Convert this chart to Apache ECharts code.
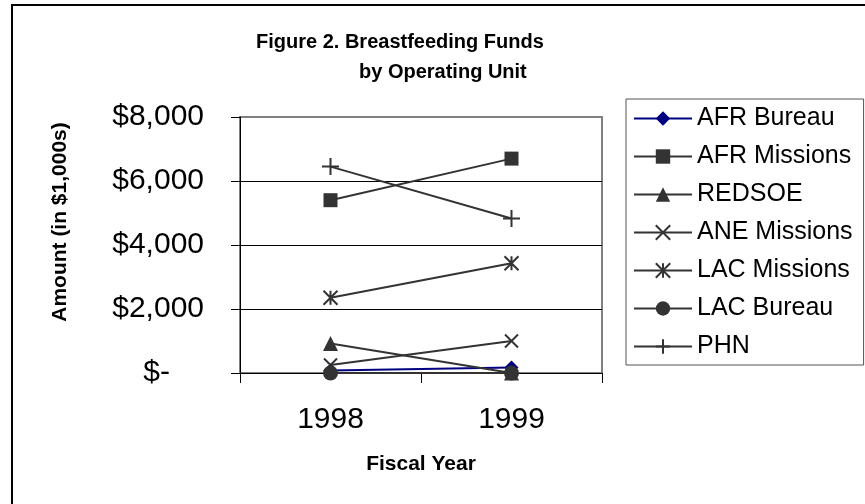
<!doctype html>
<html lang="en">
<head>
    <meta charset="UTF-8">
    <title>Breastfeeding Funds by Operating Unit</title>
    <style>
        html, body { margin: 0; padding: 0; background: #fff; }
        #main { width: 865px; height: 504px; }
    </style>
    <script src="https://cdn.jsdelivr.net/npm/echarts@6/dist/echarts.min.js"></script>
</head>
<body>
<div id="main"></div>
<script type="text/javascript">
    // data (amounts in $1,000s)
    var years = ['1998', '1999'];
    var seriesNames = ['AFR Bureau', 'AFR Missions', 'REDSOE', 'ANE Missions', 'LAC Missions', 'LAC Bureau', 'PHN'];
    var afrBureau = [80, 170];
    var afrMissions = [5400, 6700];
    var redsoe = [920, 0];
    var aneMissions = [250, 1000];
    var lacMissions = [2350, 3430];
    var lacBureau = [0, 0];
    var phn = [6450, 4830];
    var yTicks = [0, 2000, 4000, 6000, 8000];

    var dark = '#333333';
    var navy = '#000080';
    var font = 'Arial, "Liberation Sans", sans-serif';

    // stroked marker shapes (x, asterisk, plus)
    var xPath = 'path://M0,0 L100,100 M100,0 L0,100';
    var starPath = 'path://M0,0 L100,100 M100,0 L0,100 M50,0 L50,100';
    var plusPath = 'path://M50,0 L50,100 M0,50 L100,50';

    function makeSeries(name, data, symbol, size, color, stroked) {
        return {
            name: name,
            type: 'line',
            data: data,
            symbol: symbol,
            symbolSize: size,
            showAllSymbol: true,
            animation: false,
            lineStyle: { color: color, width: 2 },
            itemStyle: stroked
                ? { color: 'rgba(0,0,0,0)', borderColor: color, borderWidth: 2 }
                : { color: color, borderWidth: 0 }
        };
    }

    var myChart = echarts.init(document.getElementById('main'));
    myChart.setOption({
        backgroundColor: '#fff',
        animation: false,
        title: [
            {
                text: 'Figure 2. Breastfeeding Funds',
                left: 256, top: 32, padding: 0,
                textStyle: { fontFamily: font, fontSize: 20, fontWeight: 'bold', color: '#000' }
            },
            {
                text: 'by Operating Unit',
                left: 359, top: 62, padding: 0,
                textStyle: { fontFamily: font, fontSize: 20, fontWeight: 'bold', color: '#000' }
            }
        ],
        graphic: [
            {
                type: 'rect',
                shape: { x: 12, y: 5, width: 900, height: 600 },
                style: { fill: 'none', stroke: '#000', lineWidth: 2 },
                silent: true
            },
            {
                type: 'text',
                x: 60, y: 222, rotation: Math.PI / 2,
                style: {
                    text: 'Amount (in $1,000s)',
                    fontFamily: font, fontSize: 21, fontWeight: 'bold', fill: '#000',
                    align: 'center', verticalAlign: 'middle'
                }
            }
        ],
        legend: {
            data: seriesNames,
            orient: 'vertical',
            left: 626, top: 99,
            padding: [7, 11, 6, 7],
            itemWidth: 58, itemHeight: 18, itemGap: 13,
            borderColor: '#555', borderWidth: 1,
            backgroundColor: '#fff',
            textStyle: { fontFamily: font, fontSize: 25, color: '#000' }
        },
        grid: {
            left: 240, right: 263, top: 117, bottom: 131,
            show: true, borderColor: '#808080', borderWidth: 2, backgroundColor: '#fff'
        },
        xAxis: {
            type: 'category',
            data: years,
            boundaryGap: true,
            axisLine: { lineStyle: { color: '#000', width: 1 } },
            axisTick: { show: true, length: 10, interval: 0, lineStyle: { color: '#000' } },
            axisLabel: { fontFamily: font, fontSize: 30, color: '#000', margin: 32 },
            name: 'Fiscal Year',
            nameLocation: 'middle',
            nameGap: 81,
            nameTextStyle: { fontFamily: font, fontSize: 21, fontWeight: 'bold', color: '#000' }
        },
        yAxis: {
            type: 'value',
            min: yTicks[0],
            max: yTicks[yTicks.length - 1],
            interval: yTicks[1] - yTicks[0],
            axisLine: { show: true, lineStyle: { color: '#000', width: 1 } },
            axisTick: { show: true, length: 9, lineStyle: { color: '#000' } },
            splitLine: { show: true, lineStyle: { color: ['#000', '#000', '#000', '#000', '#808080'], width: 1 } },
            axisLabel: {
                fontFamily: font, fontSize: 30, color: '#000', margin: 36,
                formatter: function (v) {
                    if (v === 0) return '{z|$-}';
                    return '$' + v.toLocaleString('en-US');
                },
                rich: {
                    z: { fontFamily: font, fontSize: 30, color: '#000', padding: [0, 34, 0, 0] }
                }
            }
        },
        series: [
            makeSeries(seriesNames[0], afrBureau, 'diamond', 14, navy, false),
            makeSeries(seriesNames[1], afrMissions, 'rect', 14, dark, false),
            makeSeries(seriesNames[2], redsoe, 'triangle', 15, dark, false),
            makeSeries(seriesNames[3], aneMissions, xPath, 13, dark, true),
            makeSeries(seriesNames[4], lacMissions, starPath, 14, dark, true),
            makeSeries(seriesNames[5], lacBureau, 'circle', 15, dark, false),
            makeSeries(seriesNames[6], phn, plusPath, 17, dark, true)
        ]
    });
</script>
</body>
</html>
